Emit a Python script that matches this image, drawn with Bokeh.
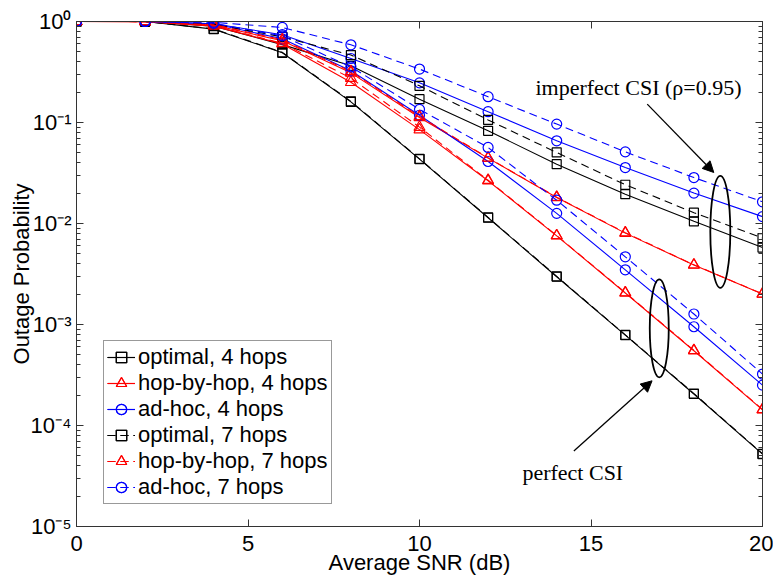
from bokeh.plotting import figure
from bokeh.models import (Range1d, FixedTicker, LinearAxis, LogAxis, CustomJSTickFormatter,
                          Label, Arrow, NormalHead)
from bokeh.embed import file_html
from bokeh.resources import INLINE

# ---------------- data ----------------
snr_db = [0, 2, 4, 6, 8, 10, 12, 14, 16, 18, 20]

# perfect CSI
opt4_perf = [1.0, 0.999, 0.84, 0.49, 0.160, 0.0434, 0.0114, 0.00297, 7.85e-4, 2.05e-4, 5.2e-5]
opt7_perf = [1.0, 0.999, 0.845, 0.495, 0.162, 0.0437, 0.0115, 0.00300, 7.9e-4, 2.07e-4, 5.25e-5]
hop4_perf = [1.0, 0.998, 0.90, 0.60, 0.250, 0.085, 0.0265, 0.00755, 0.00205, 5.5e-4, 1.43e-4]
hop7_perf = [1.0, 0.998, 0.91, 0.61, 0.275, 0.090, 0.0268, 0.00760, 0.00207, 5.55e-4, 1.44e-4]
adhoc4_perf = [1.0, 1.0, 0.95, 0.674, 0.325, 0.118, 0.0411, 0.0126, 0.00348, 9.5e-4, 2.51e-4]
adhoc7_perf = [1.0, 1.0, 0.96, 0.72, 0.356, 0.135, 0.0566, 0.0170, 0.00468, 0.00127, 3.23e-4]

# imperfect CSI (rho = 0.95)
opt4_imp = [1.0, 1.0, 0.90, 0.59, 0.364, 0.170, 0.0827, 0.0387, 0.0195, 0.0105, 0.00578]
opt7_imp = [1.0, 1.0, 0.94, 0.705, 0.465, 0.231, 0.106, 0.0505, 0.0242, 0.0128, 0.00717]
hop4_imp = [1.0, 0.998, 0.92, 0.644, 0.310, 0.112, 0.0444, 0.0181, 0.00803, 0.00388, 0.00200]
hop7_imp = [1.0, 0.998, 0.93, 0.66, 0.320, 0.115, 0.0447, 0.0182, 0.00810, 0.00390, 0.00201]
adhoc4_imp = [1.0, 1.0, 0.95, 0.74, 0.430, 0.247, 0.128, 0.0659, 0.0358, 0.0200, 0.0117]
adhoc7_imp = [1.0, 1.0, 0.98, 0.873, 0.588, 0.338, 0.180, 0.0964, 0.0512, 0.0285, 0.0164]

labels = ["optimal, 4 hops", "hop-by-hop, 4 hops", "ad-hoc, 4 hops",
          "optimal, 7 hops", "hop-by-hop, 7 hops", "ad-hoc, 7 hops"]
perf_series = [opt4_perf, hop4_perf, adhoc4_perf, opt7_perf, hop7_perf, adhoc7_perf]
imp_series = [opt4_imp, hop4_imp, adhoc4_imp, opt7_imp, hop7_imp, adhoc7_imp]
colors = ["#000000", "#ff0000", "#0000ff", "#000000", "#ff0000", "#0000ff"]
markers = ["square", "triangle", "circle", "square", "triangle", "circle"]
marker_sizes = [9, 11, 10, 9, 11, 10]
dashes = ["solid", "solid", "solid", "8 5", "8 5", "8 5"]

x_ticks = [0, 5, 10, 15, 20]
y_ticks = [1e-5, 1e-4, 1e-3, 1e-2, 1e-1, 1.0]
y_minor = [m * d for d in y_ticks[:-1] for m in range(2, 10)]

# annotation positions (data coords)
ell_x = [18.77, 16.99]
ell_y = [0.00828, 9.17e-4]
ell_w = [20, 19]
ell_h = [112, 98]

FONT = "Liberation Sans"
SERIF = "Liberation Serif"
AX_COL = "#333333"
FS = "22px"

p = figure(width=773, height=579, output_backend="svg", toolbar_location=None,
           y_axis_type="log", x_range=Range1d(0, 20), y_range=Range1d(1e-5, 1.0),
           min_border_left=76, min_border_right=11, min_border_top=21, min_border_bottom=53)
p.background_fill_color = "white"
p.border_fill_color = "white"
p.outline_line_color = AX_COL
p.grid.visible = False

for lab, yp, yi, c, mk, ms, d in zip(labels, perf_series, imp_series, colors, markers, marker_sizes, dashes):
    for ys in (yp, yi):
        p.line(snr_db, ys, line_color=c, line_width=1.1, line_dash=d, legend_label=lab)
        p.scatter(snr_db, ys, marker=mk, size=ms, line_color=c, line_width=1.2,
                  fill_color=None, legend_label=lab)

# ellipses around curve groups
p.ellipse(x=ell_x, y=ell_y, width=ell_w, height=ell_h, width_units="screen",
          height_units="screen", fill_color=None, line_color="black", line_width=1.8)

# arrows + annotation text
p.add_layout(Arrow(end=NormalHead(size=11, fill_color="black", line_color="black"),
                   x_start=16.64, y_start=0.152, x_end=18.58, y_end=0.032,
                   line_color="black", line_width=1.3))
p.add_layout(Arrow(end=NormalHead(size=11, fill_color="black", line_color="black"),
                   x_start=14.50, y_start=5.6e-5, x_end=16.78, y_end=2.77e-4,
                   line_color="black", line_width=1.3))
p.add_layout(Label(x=13.38, y=0.222, text="imperfect CSI (\u03c1=0.95)", text_font=SERIF,
                   text_font_size="22px", text_align="left", text_baseline="middle",
                   text_color="black"))
p.add_layout(Label(x=13.0, y=3.43e-5, text="perfect CSI", text_font=SERIF,
                   text_font_size="22px", text_align="left", text_baseline="middle",
                   text_color="black"))

# ---------------- axes ----------------
sup_fmt = CustomJSTickFormatter(code="""
const e = Math.round(Math.log10(tick));
const m = {"-": "\\u207B", "0": "\\u2070", "1": "\\u00B9", "2": "\\u00B2", "3": "\\u00B3",
           "4": "\\u2074", "5": "\\u2075"};
return "10" + String(e).split("").map(c => m[c]).join("");
""")
blank_fmt = CustomJSTickFormatter(code="return '';")

xa = p.xaxis[0]
xa.ticker = FixedTicker(ticks=x_ticks)
xa.axis_label = "Average SNR (dB)"
xa.axis_label_text_font = FONT
xa.axis_label_text_font_size = FS
xa.axis_label_text_font_style = "normal"
xa.axis_label_text_color = "black"
xa.axis_label_standoff = -4
xa.major_label_text_font = FONT
xa.major_label_text_font_size = FS
xa.major_label_text_color = "black"
xa.major_label_standoff = 9
xa.major_tick_in = 7
xa.major_tick_out = 0
xa.minor_tick_line_color = None
xa.axis_line_color = AX_COL
xa.major_tick_line_color = AX_COL

ya = p.yaxis[0]
ya.ticker = FixedTicker(ticks=y_ticks, minor_ticks=y_minor)
ya.formatter = sup_fmt
ya.axis_label = "Outage Probability"
ya.axis_label_text_font = FONT
ya.axis_label_text_font_size = FS
ya.axis_label_text_font_style = "normal"
ya.axis_label_text_color = "black"
ya.axis_label_standoff = -6
ya.major_label_text_font = FONT
ya.major_label_text_font_size = FS
ya.major_label_text_color = "black"
ya.major_label_standoff = 5
ya.major_tick_in = 7
ya.major_tick_out = 0
ya.minor_tick_in = 4
ya.minor_tick_out = 0
ya.axis_line_color = AX_COL
ya.major_tick_line_color = AX_COL
ya.minor_tick_line_color = AX_COL

ra = LogAxis(ticker=FixedTicker(ticks=y_ticks, minor_ticks=y_minor), formatter=blank_fmt,
             major_label_text_font_size="10px", major_label_standoff=0,
             major_tick_in=7, major_tick_out=0, minor_tick_in=4, minor_tick_out=0,
             axis_line_color=AX_COL, major_tick_line_color=AX_COL, minor_tick_line_color=AX_COL)
p.add_layout(ra, "right")
ta = LinearAxis(ticker=FixedTicker(ticks=x_ticks), formatter=blank_fmt,
                major_label_text_font_size="10px",
                major_label_standoff=0, major_tick_in=7, major_tick_out=0,
                minor_tick_line_color=None, axis_line_color=AX_COL, major_tick_line_color=AX_COL)
p.add_layout(ta, "above")

# ---------------- legend ----------------
lg = p.legend[0]
lg.location = (27, 22)
lg.label_text_font = FONT
lg.label_text_font_size = FS
lg.label_text_color = "black"
lg.glyph_width = 28
lg.glyph_height = 26
lg.label_height = 26
lg.label_standoff = 3
lg.spacing = 0
lg.padding = 3
lg.margin = 0
lg.border_line_color = AX_COL
lg.border_line_width = 1
lg.background_fill_alpha = 1.0

open("out.html", "w").write(file_html(p, INLINE))
